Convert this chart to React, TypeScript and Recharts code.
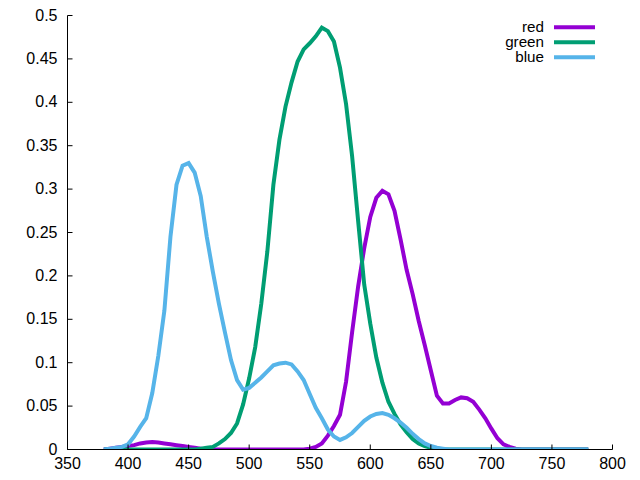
import { LineChart, Line, XAxis, YAxis, Legend } from 'recharts';

// sample grid, nm
const wavelengths = [
  380, 385, 390, 395, 400, 405, 410, 415, 420, 425, 430, 435, 440, 445, 450, 455,
  460, 465, 470, 475, 480, 485, 490, 495, 500, 505, 510, 515, 520, 525, 530, 535,
  540, 545, 550, 555, 560, 565, 570, 575, 580, 585, 590, 595, 600, 605, 610, 615,
  620, 625, 630, 635, 640, 645, 650, 655, 660, 665, 670, 675, 680, 685, 690, 695,
  700, 705, 710, 715, 720, 725, 730, 735, 740, 745, 750, 755, 760, 765, 770, 775, 780,
];

const red = [
  0, 0.001, 0.002, 0.003, 0.004, 0.005, 0.007, 0.008, 0.0085, 0.008, 0.007, 0.006, 0.005, 0.004, 0.003, 0.002,
  0.001, 0, 0, 0, 0, 0, 0, 0, 0, 0, 0, 0, 0, 0, 0, 0,
  0, 0, 0.001, 0.003, 0.007, 0.016, 0.027, 0.04, 0.078, 0.135, 0.188, 0.232, 0.268, 0.29, 0.298, 0.294,
  0.275, 0.242, 0.207, 0.179, 0.148, 0.12, 0.091, 0.062, 0.053, 0.053, 0.057, 0.06, 0.059, 0.055, 0.046, 0.036,
  0.024, 0.013, 0.006, 0.003, 0.001, 0, 0, 0, 0, 0, 0, 0, 0, 0, 0, 0, 0,
];

const green = [
  0, 0, 0, 0, 0, 0, 0, 0, 0, 0, 0, 0, 0, 0, 0, 0,
  0.001, 0.002, 0.003, 0.007, 0.012, 0.019, 0.03, 0.052, 0.082, 0.118, 0.168, 0.228, 0.305, 0.357, 0.395, 0.423,
  0.447, 0.461, 0.468, 0.476, 0.486, 0.482, 0.47, 0.44, 0.398, 0.338, 0.263, 0.19, 0.145, 0.106, 0.077, 0.055,
  0.041, 0.029, 0.02, 0.012, 0.007, 0.004, 0.002, 0.001, 0, 0, 0, 0, 0, 0, 0, 0,
  0, 0, 0, 0, 0, 0, 0, 0, 0, 0, 0, 0, 0, 0, 0, 0, 0,
];

const blue = [
  0, 0.001, 0.002, 0.003, 0.006, 0.015, 0.026, 0.036, 0.065, 0.108, 0.16, 0.245, 0.305, 0.327, 0.33, 0.319,
  0.292, 0.245, 0.205, 0.168, 0.135, 0.103, 0.08, 0.069, 0.071, 0.077, 0.083, 0.09, 0.097, 0.099, 0.1, 0.098,
  0.09, 0.08, 0.064, 0.048, 0.036, 0.023, 0.015, 0.011, 0.014, 0.019, 0.026, 0.033, 0.038, 0.041, 0.042, 0.04,
  0.036, 0.031, 0.025, 0.018, 0.012, 0.007, 0.004, 0.002, 0.001, 0, 0, 0, 0, 0, 0, 0,
  0, 0, 0, 0, 0, 0, 0, 0, 0, 0, 0, 0, 0, 0, 0, 0, 0,
];

const seriesOrder = ['red', 'green', 'blue'];
const xTicks = [350, 400, 450, 500, 550, 600, 650, 700, 750, 800];
const yTicks = [0, 0.05, 0.1, 0.15, 0.2, 0.25, 0.3, 0.35, 0.4, 0.45, 0.5];

const data = wavelengths.map((w, i) => ({ w, red: red[i], green: green[i], blue: blue[i] }));

const FONT = '"Liberation Sans", Arial, sans-serif';
const TICK = 5;

function BottomTick({ x, y, payload }: any) {
  return (
    <g>
      <line x1={x} y1={y} x2={x} y2={y - TICK} stroke="#000" />
      <text x={x} y={y + 19} textAnchor="middle" fontFamily={FONT} fontSize={16} fill="#000">
        {payload.value}
      </text>
    </g>
  );
}

function TopTick({ x, y }: any) {
  return <line x1={x} y1={y} x2={x} y2={y + TICK} stroke="#000" />;
}

function LeftTick({ x, y, payload }: any) {
  return (
    <g>
      <line x1={x} y1={y} x2={x + TICK} y2={y} stroke="#000" />
      <text x={x - 10} y={y + 5} textAnchor="end" fontFamily={FONT} fontSize={16} fill="#000">
        {String(payload.value)}
      </text>
    </g>
  );
}

function RightTick({ x, y }: any) {
  return <line x1={x} y1={y} x2={x - TICK} y2={y} stroke="#000" />;
}

function KeyBox({ payload }: any) {
  const items = [...(payload || [])].sort(
    (a: any, b: any) => seriesOrder.indexOf(a.value) - seriesOrder.indexOf(b.value)
  );
  return (
    <svg width={640} height={70}>
      {items.map((p: any, i: number) => (
        <g key={p.value}>
          <text x={544} y={31.5 + i * 15.2} textAnchor="end" fontFamily={FONT} fontSize={15.2} fill="#000">
            {p.value}
          </text>
          <line x1={554} x2={595} y1={27.3 + i * 15} y2={27.3 + i * 15} stroke={p.color} strokeWidth={4} />
        </g>
      ))}
    </svg>
  );
}

export default function App() {
  return (
    <div style={{ position: 'absolute', left: 0, top: 0, width: 640, height: 480, background: '#fff' }}>
      <LineChart width={640} height={480} data={data} margin={{ top: 15.5, right: 27.5, bottom: 0, left: 0.5 }}>
        <XAxis
          dataKey="w"
          type="number"
          domain={[350, 800]}
          ticks={xTicks}
          interval={0}
          height={30.5}
          tickSize={0}
          tickMargin={0}
          tickLine={false}
          axisLine={{ stroke: '#000' }}
          tick={<BottomTick />}
          allowDataOverflow
        />
        <XAxis
          xAxisId="top"
          orientation="top"
          dataKey="w"
          type="number"
          domain={[350, 800]}
          ticks={xTicks}
          interval={0}
          height={0}
          tickSize={0}
          tickMargin={0}
          tickLine={false}
          axisLine={{ stroke: '#000' }}
          tick={<TopTick />}
          allowDataOverflow
        />
        <YAxis
          type="number"
          domain={[0, 0.5]}
          ticks={yTicks}
          interval={0}
          width={67}
          tickSize={0}
          tickMargin={0}
          tickLine={false}
          axisLine={{ stroke: '#000' }}
          tick={<LeftTick />}
          allowDataOverflow
        />
        <YAxis
          yAxisId="right"
          orientation="right"
          type="number"
          domain={[0, 0.5]}
          ticks={yTicks}
          interval={0}
          width={0}
          tickSize={0}
          tickMargin={0}
          tickLine={false}
          axisLine={{ stroke: '#000' }}
          tick={<RightTick />}
          allowDataOverflow
        />
        <Legend
          layout="vertical"
          align="center"
          verticalAlign="middle"
          wrapperStyle={{ left: 0, top: 0, width: 640, height: 70 }}
          content={<KeyBox />}
        />
        <Line type="linear" dataKey="red" name="red" stroke="#9400d3" strokeWidth={4} dot={false} isAnimationActive={false} />
        <Line type="linear" dataKey="green" name="green" stroke="#009e73" strokeWidth={4} dot={false} isAnimationActive={false} />
        <Line type="linear" dataKey="blue" name="blue" stroke="#56b4e9" strokeWidth={4} dot={false} isAnimationActive={false} />
      </LineChart>
    </div>
  );
}
